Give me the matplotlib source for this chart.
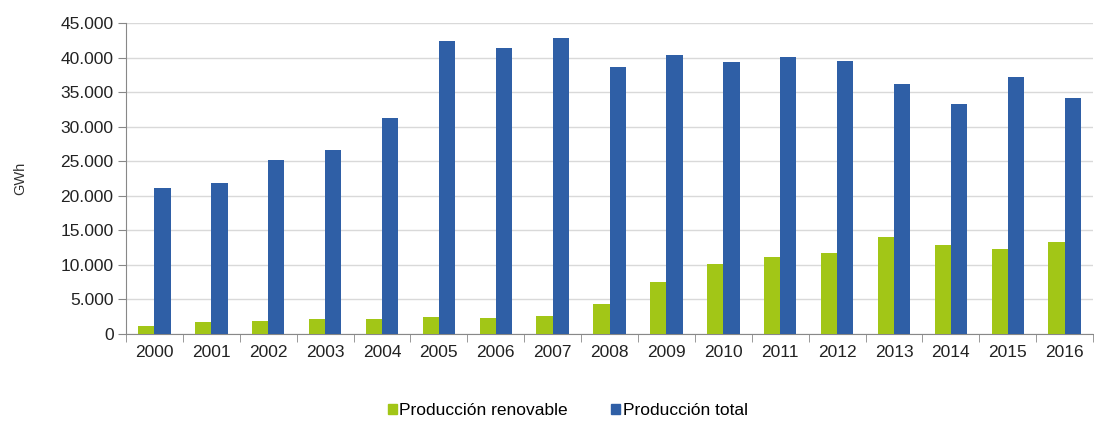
import numpy as np
import matplotlib.pyplot as plt
from matplotlib.ticker import FuncFormatter, MultipleLocator
from matplotlib.patches import Patch

plt.rcParams['font.family'] = ['Liberation Sans', 'DejaVu Sans']

years = [str(y) for y in range(2000, 2017)]
renovable = [1090, 1770, 1810, 2200, 2200, 2450, 2260, 2550, 4350, 7540,
             10150, 11220, 11740, 14060, 12900, 12380, 13250]
total = [21200, 21800, 25150, 26600, 31300, 42500, 41450, 42800, 38740, 40380,
         39460, 40100, 39560, 36250, 33350, 37170, 34170]

verde = '#a2c617'
azul = '#2f5fa6'

fig = plt.figure(figsize=(10.94, 4.21), dpi=100)
ax = fig.add_axes([0.1152, 0.2067, 0.884, 0.738])

x = np.arange(len(years))
w = 0.285
ax.bar(x - w/2, renovable, w, color=verde, zorder=3)
ax.bar(x + w/2, total, w, color=azul, zorder=3)

ax.set_xlim(-0.5, len(years) - 0.5)
ax.set_ylim(0, 45000)
ax.yaxis.set_major_locator(MultipleLocator(5000))
ax.yaxis.set_major_formatter(FuncFormatter(lambda v, p: f"{int(v):,}".replace(",", ".")))
ax.grid(axis='y', color='#d9d9d9', linewidth=1, zorder=0)

ax.set_xticks(x)
ax.set_xticklabels(years)
ax.set_xticks(np.arange(-0.5, len(years)), minor=True)
ax.tick_params(axis='x', which='major', length=0, pad=8, labelsize=12.5, colors='#222222')
ax.tick_params(axis='x', which='minor', length=6, color='#888888')
ax.tick_params(axis='y', length=6, color='#888888', labelsize=12.5, labelcolor='#222222', pad=3)

for s in ['top', 'right']:
    ax.spines[s].set_visible(False)
ax.spines['left'].set_color('#888888')
ax.spines['bottom'].set_color('#888888')

ax.set_ylabel('GWh', fontsize=10.5, color='#333333', labelpad=24)

handles = [Patch(color=verde, label='Producción renovable'),
           Patch(color=azul, label='Producción total')]
fig.legend(handles=handles, loc='center', bbox_to_anchor=(0.519, 0.024), ncol=2,
           frameon=False, fontsize=12.5, handlelength=0.5, handleheight=0.5,
           handletextpad=0.15, columnspacing=2.5)

fig.savefig('out.png', dpi=100)
